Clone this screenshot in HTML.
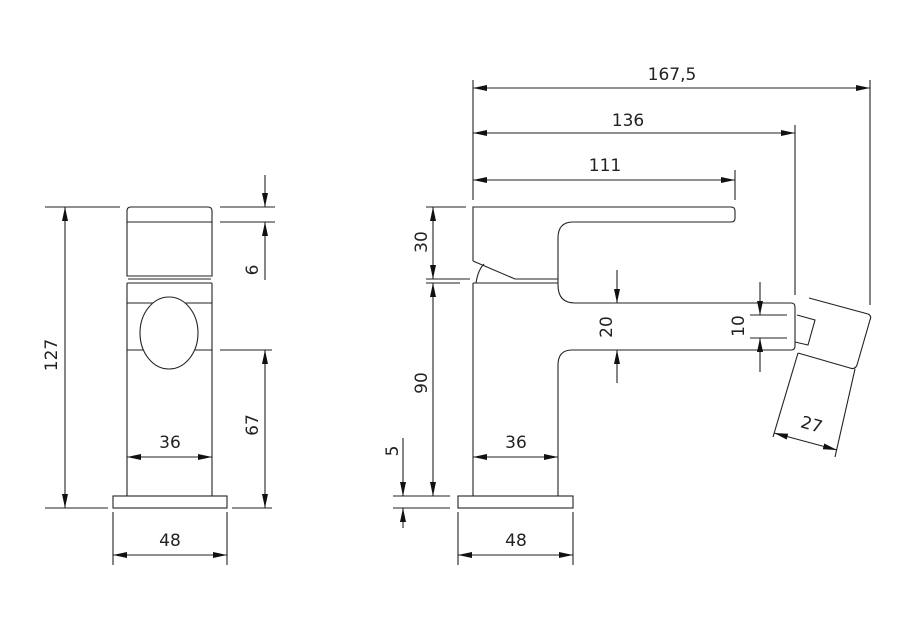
<!DOCTYPE html>
<html><head><style>html,body{margin:0;padding:0;background:#fff}svg{display:block}</style></head>
<body>
<svg width="921" height="630" viewBox="0 0 921 630" xmlns="http://www.w3.org/2000/svg" font-family="'DejaVu Sans','Liberation Sans',sans-serif" font-size="17" fill="none" stroke="#222" stroke-width="1.1">
<defs>
<marker id="a" viewBox="0 0 14 6" refX="14" refY="3" markerWidth="14" markerHeight="6" markerUnits="userSpaceOnUse" orient="auto-start-reverse"><path d="M0,0 L14,3 L0,6z" fill="#111" stroke="none"/></marker>
</defs>
<!-- LEFT VIEW -->
<path d="M127,222 V211 Q127,207 131,207 H208 Q212,207 212,211 V222 Z"/>
<path d="M127,222 V276 H212 V222"/>
<path d="M128,279 H211 M127,283 H212 M127,283 V496 M212,283 V496 M127,303 H212 M127,350 H212"/>
<ellipse cx="169" cy="333" rx="29" ry="36" fill="#fff"/>
<rect x="113" y="496" width="114" height="12"/>
<!-- left dims -->
<path d="M45,207 H120 M45,508 H108"/>
<line x1="65" y1="207" x2="65" y2="508" marker-start="url(#a)" marker-end="url(#a)"/>
<path d="M220,207 H275 M220,222 H275 M220,350 H272 M232,508 H272"/>
<line x1="265" y1="175" x2="265" y2="207" marker-end="url(#a)"/>
<line x1="265" y1="280" x2="265" y2="222" marker-end="url(#a)"/>
<line x1="265" y1="350" x2="265" y2="508" marker-start="url(#a)" marker-end="url(#a)"/>
<line x1="127" y1="457" x2="212" y2="457" marker-start="url(#a)" marker-end="url(#a)"/>
<path d="M113,512 V565 M227,512 V565"/>
<line x1="113" y1="555" x2="227" y2="555" marker-start="url(#a)" marker-end="url(#a)"/>
<g fill="#222" stroke="none" text-anchor="middle">
<text transform="translate(57,355) rotate(-90)">127</text>
<text transform="translate(258,270) rotate(-90)">6</text>
<text transform="translate(258,425) rotate(-90)">67</text>
<text x="170" y="448">36</text>
<text x="170" y="546">48</text>
</g>
<!-- RIGHT VIEW -->
<path d="M473,261 V207 H731 Q735,207 735,211 V218 Q735,222 731,222 H573 Q558,222 558,238 V279 M473,261 L515,279 H558 M473,283 H558"/>
<path d="M476,283 Q478,270 484,264"/>
<path d="M473,283 V496 M558,279 V285 Q558,303 575,303 H791 Q795,303 795,307 V346 Q795,350 791,350 H572 Q558,350 558,365 V496"/>
<rect x="458" y="496" width="115" height="12"/>
<path d="M797,315 L815,320 L808,345 L795,342"/>
<path d="M809,298 L868,314 Q872,316 870,320 L857,365 Q855,370 850,368 L798,353 M798,353 L773,437 M855,369 L835,457"/>
<!-- right dims -->
<path d="M473,80 V200 M870,80 V305 M795,125 V295 M735,170 V200"/>
<line x1="473" y1="88" x2="870" y2="88" marker-start="url(#a)" marker-end="url(#a)"/>
<line x1="473" y1="133" x2="795" y2="133" marker-start="url(#a)" marker-end="url(#a)"/>
<line x1="473" y1="180" x2="735" y2="180" marker-start="url(#a)" marker-end="url(#a)"/>
<path d="M426,207 H466 M426,279 H470 M426,283 H460 M393,496 H450 M393,508 H450"/>
<line x1="433" y1="207" x2="433" y2="279" marker-start="url(#a)" marker-end="url(#a)"/>
<line x1="433" y1="283" x2="433" y2="496" marker-start="url(#a)" marker-end="url(#a)"/>
<line x1="403" y1="438" x2="403" y2="496" marker-end="url(#a)"/>
<line x1="403" y1="528" x2="403" y2="508" marker-end="url(#a)"/>
<line x1="617" y1="270" x2="617" y2="303" marker-end="url(#a)"/>
<line x1="617" y1="383" x2="617" y2="350" marker-end="url(#a)"/>
<path d="M750,315 H787 M750,338 H787"/>
<line x1="760" y1="282" x2="760" y2="315" marker-end="url(#a)"/>
<line x1="760" y1="372" x2="760" y2="338" marker-end="url(#a)"/>
<line x1="473" y1="457" x2="558" y2="457" marker-start="url(#a)" marker-end="url(#a)"/>
<line x1="774" y1="433" x2="837" y2="450" marker-start="url(#a)" marker-end="url(#a)"/>
<path d="M458,512 V565 M573,512 V565"/>
<line x1="458" y1="555" x2="573" y2="555" marker-start="url(#a)" marker-end="url(#a)"/>
<g fill="#222" stroke="none" text-anchor="middle">
<text x="672" y="80">167,5</text>
<text x="628" y="126">136</text>
<text x="605" y="171">111</text>
<text transform="translate(427,242) rotate(-90)">30</text>
<text transform="translate(427,383) rotate(-90)">90</text>
<text transform="translate(398,451) rotate(-90)">5</text>
<text transform="translate(612,327) rotate(-90)">20</text>
<text transform="translate(744,326) rotate(-90)">10</text>
<text x="516" y="448">36</text>
<text x="516" y="546">48</text>
<text transform="translate(810,430) rotate(16)">27</text>
</g>
</svg>
</body></html>
